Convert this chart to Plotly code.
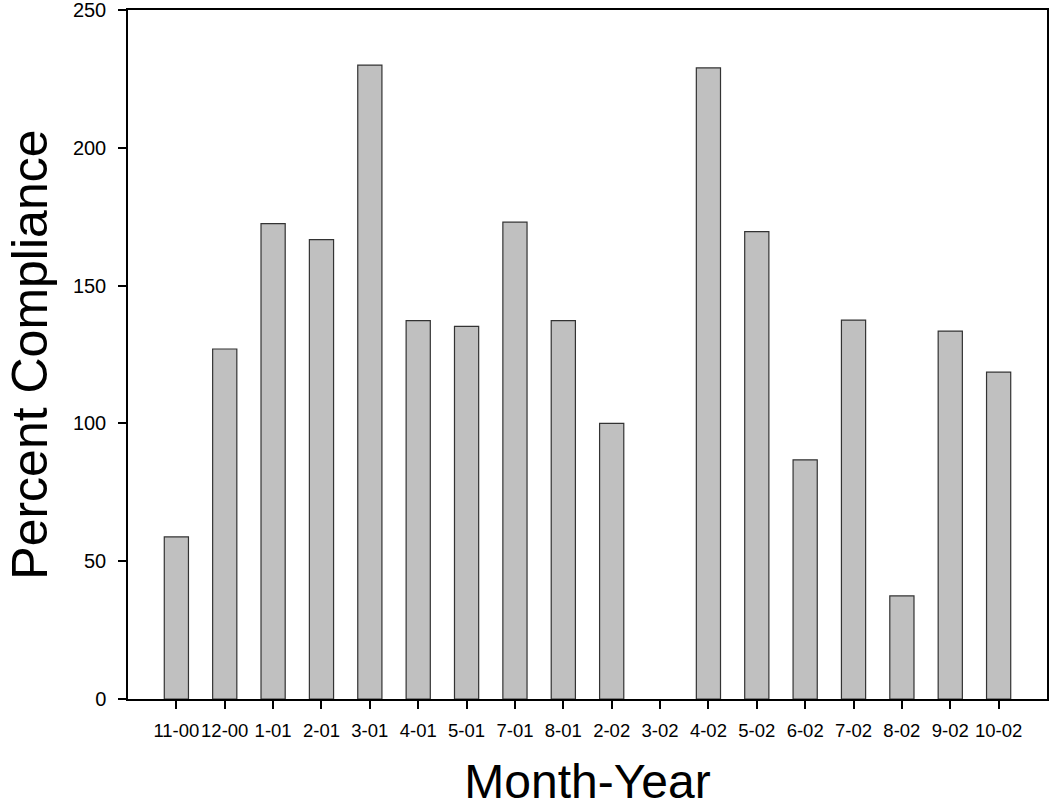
import plotly.graph_objects as go

months = ["11-00", "12-00", "1-01", "2-01", "3-01", "4-01", "5-01", "7-01", "8-01",
          "2-02", "3-02", "4-02", "5-02", "6-02", "7-02", "8-02", "9-02", "10-02"]
compliance = [58.8, 127.0, 172.5, 166.7, 230.0, 137.3, 135.2, 173.0, 137.3,
              100.0, 0.0, 229.0, 169.6, 86.8, 137.5, 37.4, 133.5, 118.6]
y_ticks = [0, 50, 100, 150, 200, 250]

FONT = "Liberation Sans, Arial, sans-serif"

outline_widths = [1.2 if v > 0 else 0 for v in compliance]

fig = go.Figure(go.Bar(
    x=list(range(len(months))),
    y=compliance,
    width=0.5,
    marker=dict(color="#c0c0c0", line=dict(color="#333333", width=outline_widths)),
))

fig.update_layout(
    width=1050, height=810,
    margin=dict(l=128, r=3, t=10, b=111),
    paper_bgcolor="white", plot_bgcolor="white",
    font=dict(family=FONT, color="black"),
    showlegend=False,
    annotations=[dict(
        text="Percent Compliance", textangle=-90,
        xref="paper", yref="paper", x=-0.1075, y=0.5,
        xanchor="center", yanchor="middle", showarrow=False,
        font=dict(size=50, family=FONT, color="black"),
    )],
)
fig.update_xaxes(
    range=[-1, len(months)],
    tickmode="array", tickvals=list(range(len(months))), ticktext=months,
    tickfont=dict(size=18.5, family=FONT, color="black"), tickangle=0,
    ticklabeloverflow="allow", ticklabelstandoff=6,
    ticks="outside", ticklen=8, tickwidth=1.5, tickcolor="black",
    showline=True, linecolor="black", linewidth=1.5, mirror=True,
    showgrid=False, zeroline=False, automargin=False,
    title=dict(text="Month-Year", font=dict(size=48, family=FONT, color="black"), standoff=24),
)
fig.update_yaxes(
    range=[0, 250],
    tickmode="array", tickvals=y_ticks,
    tickfont=dict(size=20, family=FONT, color="black"),
    ticklabeloverflow="allow", ticklabelstandoff=8,
    ticks="outside", ticklen=8, tickwidth=1.5, tickcolor="black",
    showline=True, linecolor="black", linewidth=1.5, mirror=True,
    showgrid=False, zeroline=False, automargin=False,
)

fig.write_html(
    "out.html",
    config={"displayModeBar": False},
    post_script="document.body.style.margin='0';document.body.style.overflow='hidden';",
)
